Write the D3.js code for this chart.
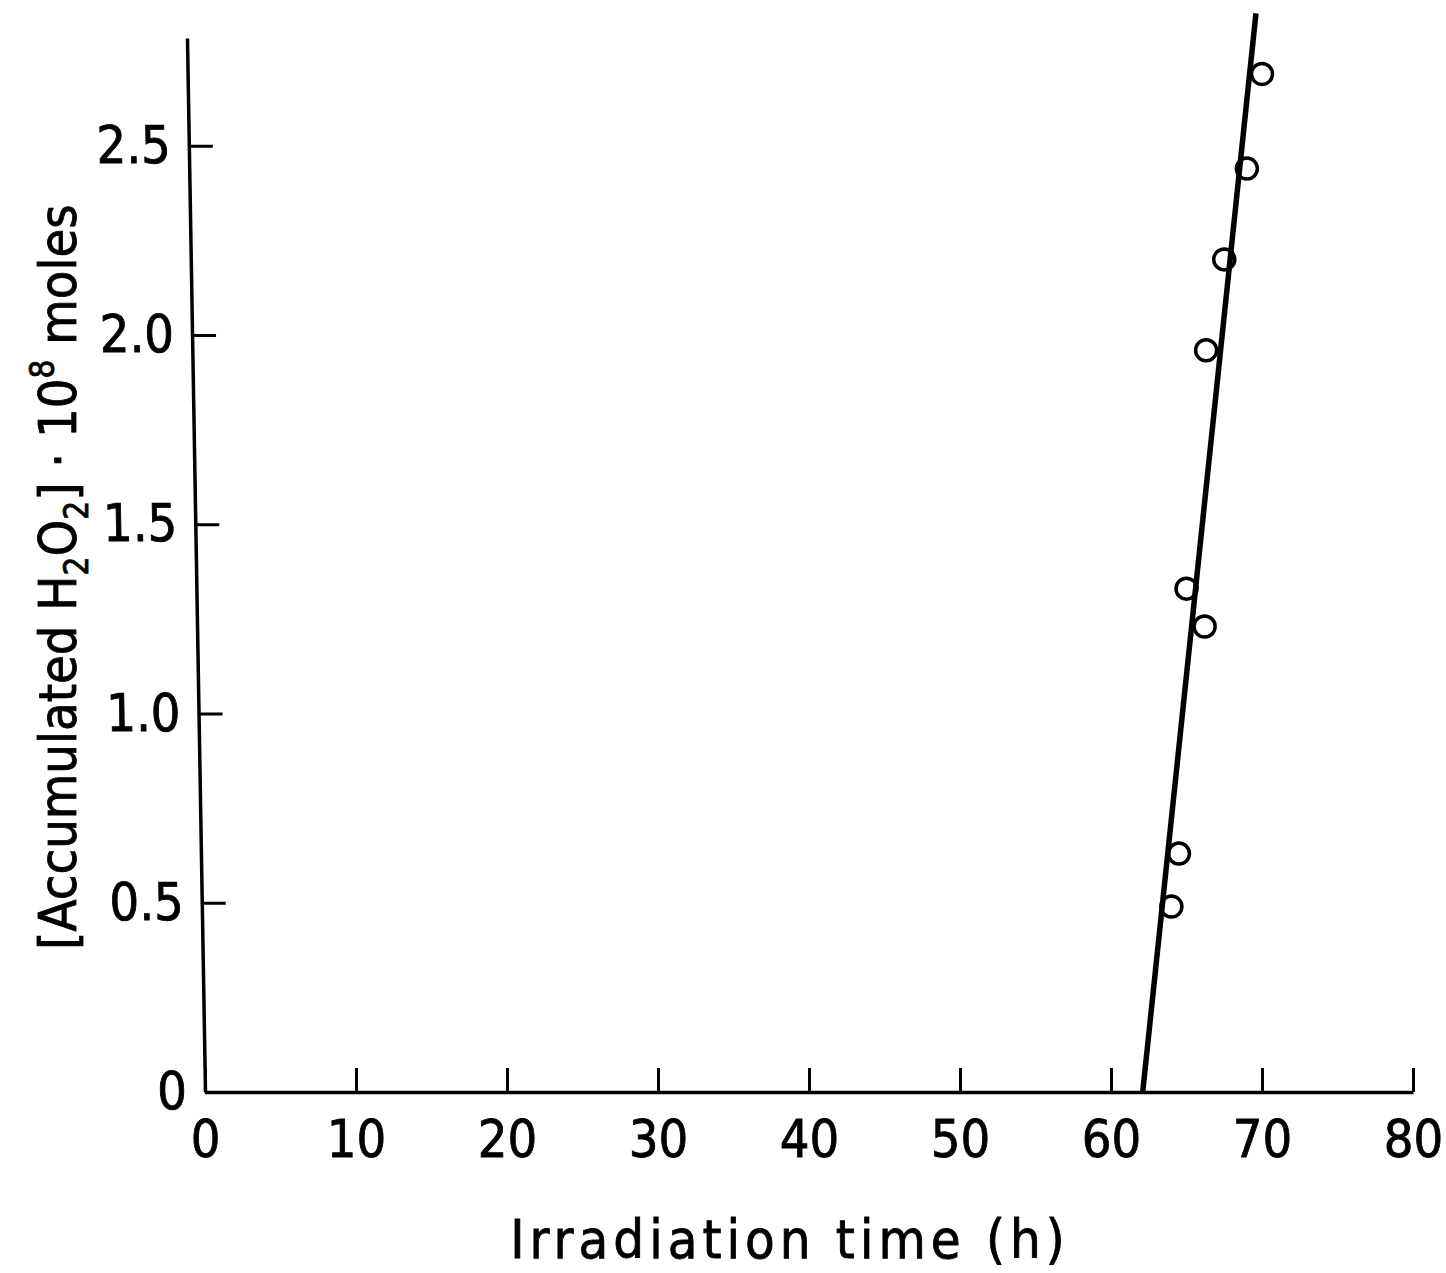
<!DOCTYPE html>
<html>
<head>
<meta charset="utf-8">
<script src="https://cdn.jsdelivr.net/npm/d3@7"></script>
<style>
  body { margin: 0; background: #fff; }
  svg { display: block; }
  text { font-family: "Liberation Sans Narrow", "DejaVu Sans Condensed", sans-serif; fill: #000; stroke: #000; stroke-width: 0.8px; }
</style>
</head>
<body>
<svg id="chart" width="1446" height="1273"></svg>
<script>
"use strict";

// measured points (irradiation time in h, H2O2 in 1e-8 moles)
const timeH = [64.0, 64.5, 65.0, 66.2, 66.3, 67.5, 69.0, 70.0];
const h2o2 = [0.49, 0.63, 1.33, 1.23, 1.96, 2.20, 2.44, 2.69];

// fitted straight line, two end points
const fitTime = [62.1, 69.6];
const fitH2o2 = [0.0, 2.85];

const xTicks = [0, 10, 20, 30, 40, 50, 60, 70, 80];
const yTicks = [0, 0.5, 1.0, 1.5, 2.0, 2.5];
const yTickLabels = ["0", "0.5", "1.0", "1.5", "2.0", "2.5"];

const svg = d3.select("#chart");

const x = d3.scaleLinear().domain([0, 80]).range([205, 1413]);
const y = d3.scaleLinear().domain([0, 2.785]).range([1092, 38]);

// x axis, ticks pointing up into the plot
const gx = svg.append("g")
    .attr("transform", "translate(0," + y(0) + ")")
    .call(d3.axisBottom(x)
        .tickValues(xTicks)
        .tickSizeInner(-24)
        .tickSizeOuter(0)
        .tickPadding(28)
        .tickFormat(d3.format("d")));
gx.select(".domain").attr("stroke-width", 3.5);
gx.selectAll(".tick line").attr("stroke-width", 3);
gx.selectAll(".tick text").style("font-size", "52px").attr("fill", "#000");

// y axis, ticks pointing right; the scanned original leans a little, so skew it about the origin
const gy = svg.append("g")
    .attr("transform", "translate(" + x(0) + "," + y(0) + ") skewX(0.98) translate(0," + (-y(0)) + ")")
    .call(d3.axisLeft(y)
        .tickValues(yTicks)
        .tickSizeInner(-24)
        .tickSizeOuter(0)
        .tickPadding(18)
        .tickFormat((d, i) => yTickLabels[i]));
gy.select(".domain").attr("stroke-width", 3.5);
gy.selectAll(".tick line").attr("stroke-width", 3);
gy.selectAll(".tick text").style("font-size", "52px").attr("fill", "#000");

// regression line
const line = d3.line()
    .x(d => x(d[0]))
    .y(d => y(d[1]));

svg.append("path")
    .datum(d3.zip(fitTime, fitH2o2))
    .attr("d", line)
    .attr("fill", "none")
    .attr("stroke", "#000")
    .attr("stroke-width", 5.5);

// open circles
svg.selectAll(".dot")
    .data(d3.zip(timeH, h2o2))
    .enter().append("circle")
    .attr("class", "dot")
    .attr("cx", d => x(d[0]))
    .attr("cy", d => y(d[1]))
    .attr("r", 10.5)
    .attr("fill", "none")
    .attr("stroke", "#000")
    .attr("stroke-width", 3.5);

// x label
svg.append("text")
    .attr("x", 790)
    .attr("y", 1258)
    .attr("text-anchor", "middle")
    .style("font-size", "54px")
    .style("letter-spacing", "5px")
    .text("Irradiation time (h)");

// y label with sub/superscripts
const yl = svg.append("text")
    .attr("transform", "translate(76,577) rotate(-90)")
    .attr("text-anchor", "middle")
    .style("font-size", "52px");
yl.append("tspan").text("[Accumulated H");
yl.append("tspan").attr("dy", 12).style("font-size", "33px").text("2");
yl.append("tspan").attr("dy", -12).text("O");
yl.append("tspan").attr("dy", 12).style("font-size", "33px").text("2");
yl.append("tspan").attr("dy", -12).text("] \u00b7 10");
yl.append("tspan").attr("dy", -22).style("font-size", "33px").text("8");
yl.append("tspan").attr("dy", 22).text(" moles");
</script>
</body>
</html>
